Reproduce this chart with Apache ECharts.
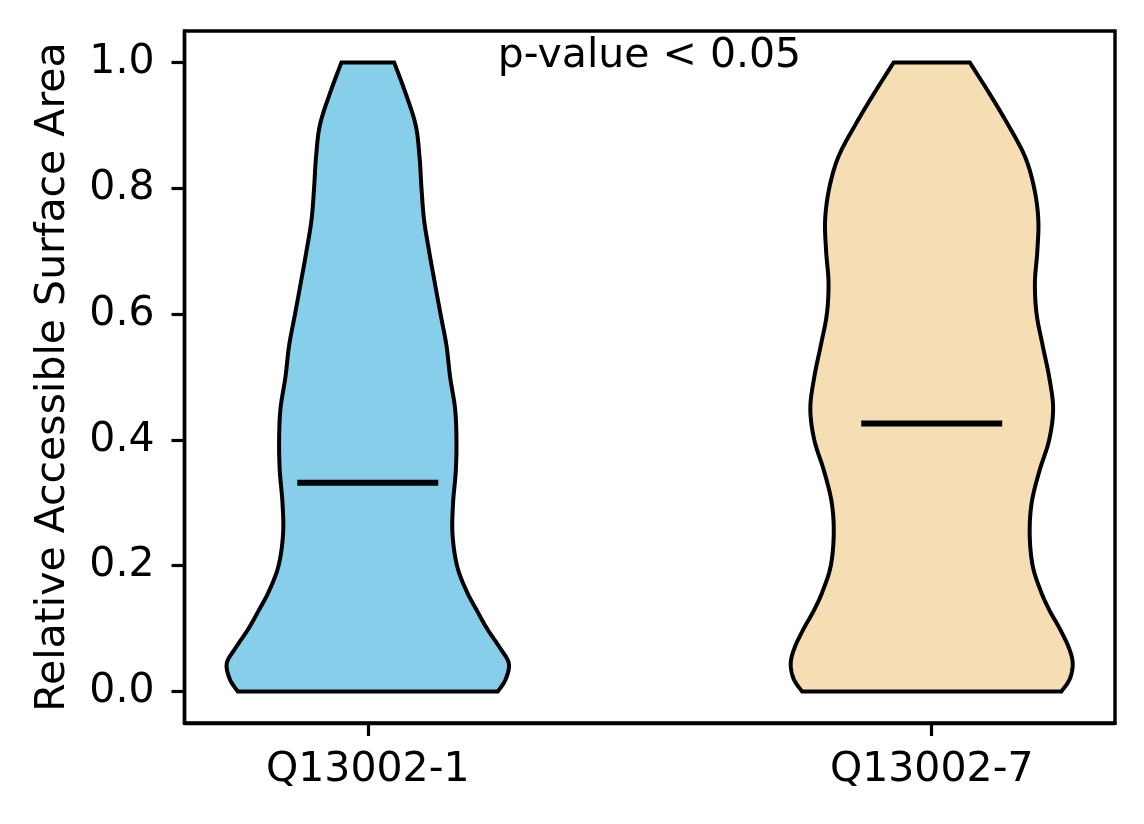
<!DOCTYPE html>
<html><head><meta charset="utf-8">
<script src="https://cdn.jsdelivr.net/npm/echarts@6/dist/echarts.min.js"></script>
<style>html,body{margin:0;padding:0;background:#fff}#c{width:1144px;height:824px}</style>
</head><body><div id="c"></div>
<script>
const categories = ['Q13002-1', 'Q13002-7'];
const positions = [1, 2];
const levels = [0, 0.02, 0.045, 0.07, 0.1, 0.13, 0.16, 0.2, 0.25, 0.3, 0.35, 0.4, 0.45, 0.5, 0.55, 0.6, 0.65, 0.7, 0.75, 0.8, 0.85, 0.9, 0.95, 1.0];
const densityQ1 = [0.922, 0.979, 1.0, 0.936, 0.846, 0.771, 0.700, 0.633, 0.601, 0.605, 0.624, 0.629, 0.619, 0.584, 0.558, 0.516, 0.475, 0.435, 0.399, 0.381, 0.367, 0.340, 0.270, 0.187];
const densityQ7 = [0.919, 0.979, 1.0, 0.972, 0.908, 0.833, 0.773, 0.716, 0.695, 0.709, 0.763, 0.833, 0.861, 0.833, 0.787, 0.744, 0.732, 0.749, 0.756, 0.727, 0.662, 0.544, 0.411, 0.270];
const medians = [0.332, 0.426];
const yTicks = [0, 0.2, 0.4, 0.6, 0.8, 1.0];
const annotation = 'p-value < 0.05';
const yAxisTitle = 'Relative Accessible Surface Area';

const densities = [densityQ1, densityQ7];
const fillColors = ['#87CEEB', '#F5DEB3'];
const violinWidth = 0.5;
const FONT = 'DejaVu Sans';

function spline(pts, n) {
  const out = [];
  const L = pts.length;
  for (let i = 0; i < L - 1; i++) {
    const p0 = pts[Math.max(i - 1, 0)], p1 = pts[i], p2 = pts[i + 1], p3 = pts[Math.min(i + 2, L - 1)];
    for (let t = 0; t < n; t++) {
      const s = t / n, s2 = s * s, s3 = s2 * s;
      const f = k => 0.5 * (2 * p1[k] + (-p0[k] + p2[k]) * s + (2 * p0[k] - 5 * p1[k] + 4 * p2[k] - p3[k]) * s2 + (-p0[k] + 3 * p1[k] - 3 * p2[k] + p3[k]) * s3);
      out.push([f(0), f(1)]);
    }
  }
  out.push(pts[L - 1]);
  return out;
}

function renderViolin(params, api) {
  const i = params.dataIndex;
  const pos = api.value(0);
  const dens = densities[i];
  const right = levels.map((lv, k) => api.coord([pos + dens[k] * violinWidth / 2, lv]));
  const left = levels.map((lv, k) => api.coord([pos - dens[k] * violinWidth / 2, lv]));
  const r = spline(right, 12);
  const l = spline(left, 12).reverse();
  const pts = r.concat(l);
  const m0 = api.coord([pos - violinWidth / 4, api.value(1)]);
  const m1 = api.coord([pos + violinWidth / 4, api.value(1)]);
  return {
    type: 'group',
    children: [
      { type: 'polygon', shape: { points: pts }, style: { fill: fillColors[i], stroke: '#000', lineWidth: 4, lineJoin: 'miter' } },
      { type: 'line', shape: { x1: m0[0], y1: m0[1], x2: m1[0], y2: m1[1] }, style: { stroke: '#000', lineWidth: 6, lineCap: 'butt' } }
    ]
  };
}

const chart = echarts.init(document.getElementById('c'), null, { renderer: 'canvas' });
chart.setOption({
  animation: false,
  backgroundColor: '#fff',
  grid: { left: 184.5, right: 29, top: 31, bottom: 101, show: true, borderColor: '#000', borderWidth: 3.4, backgroundColor: 'transparent' },
  xAxis: {
    type: 'value', min: 0.675, max: 2.325,
    splitLine: { show: false },
    axisLine: { show: true, onZero: false, lineStyle: { color: '#000', width: 3.4 } },
    axisTick: { show: true, customValues: positions, length: 13, lineStyle: { color: '#000', width: 3.2 } },
    axisLabel: { customValues: positions, formatter: v => categories[positions.indexOf(Math.round(v))], fontSize: 41, color: '#000', fontFamily: FONT, margin: 27 }
  },
  yAxis: {
    type: 'value', min: -0.05, max: 1.05,
    splitLine: { show: false },
    axisLine: { show: true, onZero: false, lineStyle: { color: '#000', width: 3.4 } },
    axisTick: { show: true, customValues: yTicks, length: 13, lineStyle: { color: '#000', width: 3.2 } },
    axisLabel: { customValues: yTicks, formatter: v => v.toFixed(1), fontSize: 41, color: '#000', fontFamily: FONT, margin: 30 },
    name: yAxisTitle, nameLocation: 'middle', nameGap: 111,
    nameTextStyle: { fontSize: 41, color: '#000', fontFamily: FONT }
  },
  graphic: [{
    type: 'text', x: 649.5, y: 56,
    style: { text: annotation, fontSize: 41, fontFamily: FONT, fill: '#000', align: 'center', verticalAlign: 'middle' }
  }],
  series: [{
    type: 'custom',
    renderItem: renderViolin,
    encode: { x: 0, y: 1 },
    data: positions.map((p, i) => [p, medians[i]]),
    clip: false,
    z: 2
  }]
});
</script>
</body></html>
